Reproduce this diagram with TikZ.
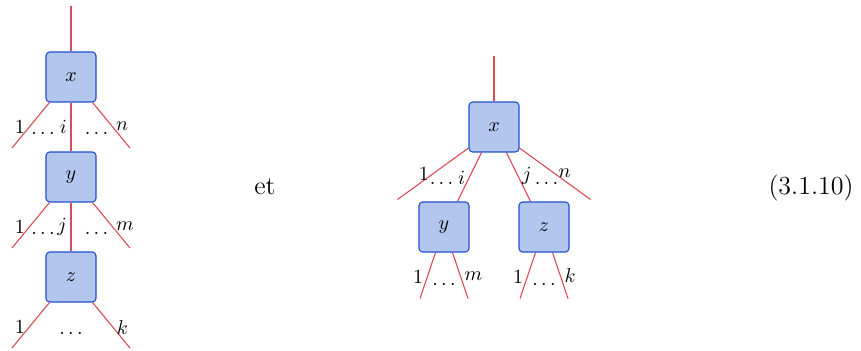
\documentclass[tikz,border=0pt]{standalone}
\usetikzlibrary{positioning,calc,backgrounds}
\definecolor{boxfill}{RGB}{179,198,238}
\definecolor{boxline}{RGB}{35,80,205}
\definecolor{wire}{RGB}{218,76,82}
\tikzset{
  op/.style={draw=boxline,fill=boxfill,rounded corners=2pt,minimum size=0.96cm,inner sep=0pt,semithick},
  leg/.style={draw=wire,semithick},
  lab/.style={inner sep=2pt},
  bigtext/.style={font=\fontsize{14.2}{17}\selectfont},
}

\begin{document}
\begin{tikzpicture}[x=0.96cm,y=0.96cm,on grid,node distance=1.92cm,
    font=\fontsize{11}{13}\selectfont]
  \useasboundingbox (0,0) rectangle (17.22,7);
  % left: vertical composite
  \node[op] (x1) at (1.42,5.46) {$x$};
  \node[op] (y1) [below=of x1] {$y$};
  \node[op] (z1) [below=of y1] {$z$};
  \coordinate (x1-in) at ($(x1)+(0,1.42)$);
  \coordinate (x1-a) at ($(x1)+(-1.18,-1.42)$);
  \coordinate (x1-b) at ($(x1)+(1.18,-1.42)$);
  \coordinate (y1-a) at ($(y1)+(-1.18,-1.42)$);
  \coordinate (y1-b) at ($(y1)+(1.18,-1.42)$);
  \coordinate (z1-a) at ($(z1)+(-1.18,-1.42)$);
  \coordinate (z1-b) at ($(z1)+(1.18,-1.42)$);
  \node (x1-dl) at ($(x1)+(-0.56,-1.12)$) {$\ldots$};
  \node (x1-dr) at ($(x1)+(0.51,-1.12)$) {$\ldots$};
  \node (y1-dl) at ($(y1)+(-0.56,-1.12)$) {$\ldots$};
  \node (y1-dr) at ($(y1)+(0.51,-1.12)$) {$\ldots$};
  \node (z1-d) at ($(z1)+(0,-1.12)$) {$\ldots$};

  \node[bigtext] (et) at (5.3,3.26) {et};

  % right: x on top of y and z
  \node[op] (x2) at (9.88,4.46) {$x$};
  \node[op] (y2) [below left=1.92cm and 0.96cm of x2] {$y$};
  \node[op] (z2) [below right=1.92cm and 0.96cm of x2] {$z$};
  \coordinate (x2-in) at ($(x2)+(0,1.42)$);
  \coordinate (x2-a) at ($(x2)+(-1.93,-1.45)$);
  \coordinate (x2-b) at ($(x2)+(1.93,-1.45)$);
  \coordinate (y2-a) at ($(y2)+(-0.48,-1.43)$);
  \coordinate (y2-b) at ($(y2)+(0.48,-1.43)$);
  \coordinate (z2-a) at ($(z2)+(-0.48,-1.43)$);
  \coordinate (z2-b) at ($(z2)+(0.48,-1.43)$);
  \node (x2-dl) at ($(x2)+(-1.05,-1.13)$) {$\ldots$};
  \node (x2-dr) at ($(x2)+(1.05,-1.13)$) {$\ldots$};
  \node (y2-d) at ($(y2)+(0,-1.15)$) {$\ldots$};
  \node (z2-d) at ($(z2)+(0,-1.15)$) {$\ldots$};

  \node[bigtext] (eqno) at (16.22,3.24) {(3.1.10)};

  \begin{scope}[on background layer]
    \draw[leg] (x1-in) -- (x1.north);
    \draw[leg] ($(x1.south west)+(0.08,0)$) -- node[lab,pos=.54,anchor=east]{$1$} (x1-a);
    \draw[leg] (x1.south) -- node[lab,pos=.5,anchor=east]{$i$} (y1.north);
    \draw[leg] ($(x1.south east)+(-0.08,0)$) -- node[lab,pos=.52,anchor=west]{$n$} (x1-b);
    \draw[leg] ($(y1.south west)+(0.08,0)$) -- node[lab,pos=.54,anchor=east]{$1$} (y1-a);
    \draw[leg] (y1.south) -- node[lab,pos=.5,anchor=east]{$j$} (z1.north);
    \draw[leg] ($(y1.south east)+(-0.08,0)$) -- node[lab,pos=.52,anchor=west]{$m$} (y1-b);
    \draw[leg] ($(z1.south west)+(0.08,0)$) -- node[lab,pos=.54,anchor=east]{$1$} (z1-a);
    \draw[leg] ($(z1.south east)+(-0.08,0)$) -- node[lab,pos=.54,anchor=west]{$k$} (z1-b);

    \draw[leg] (x2-in) -- (x2.north);
    \draw[leg] ($(x2.south west)+(0,0.09)$) -- node[lab,pos=.5,anchor=east]{$1$} (x2-a);
    \draw[leg] ($(x2.south)+(-0.25,0)$) -- node[lab,pos=.51,anchor=east]{$i$} ($(y2.north)+(0.27,0)$);
    \draw[leg] ($(x2.south)+(0.25,0)$) -- node[lab,pos=.47,anchor=west]{$j$} ($(z2.north)+(-0.27,0)$);
    \draw[leg] ($(x2.south east)+(0,0.09)$) -- node[lab,pos=.49,anchor=west]{$n$} (x2-b);
    \draw[leg] ($(y2.south)+(-0.17,0)$) -- node[lab,pos=.53,anchor=east]{$1$} (y2-a);
    \draw[leg] ($(y2.south)+(0.17,0)$) -- node[lab,pos=.51,anchor=west]{$m$} (y2-b);
    \draw[leg] ($(z2.south)+(-0.17,0)$) -- node[lab,pos=.53,anchor=east]{$1$} (z2-a);
    \draw[leg] ($(z2.south)+(0.17,0)$) -- node[lab,pos=.51,anchor=west]{$k$} (z2-b);
  \end{scope}
\end{tikzpicture}
\end{document}
